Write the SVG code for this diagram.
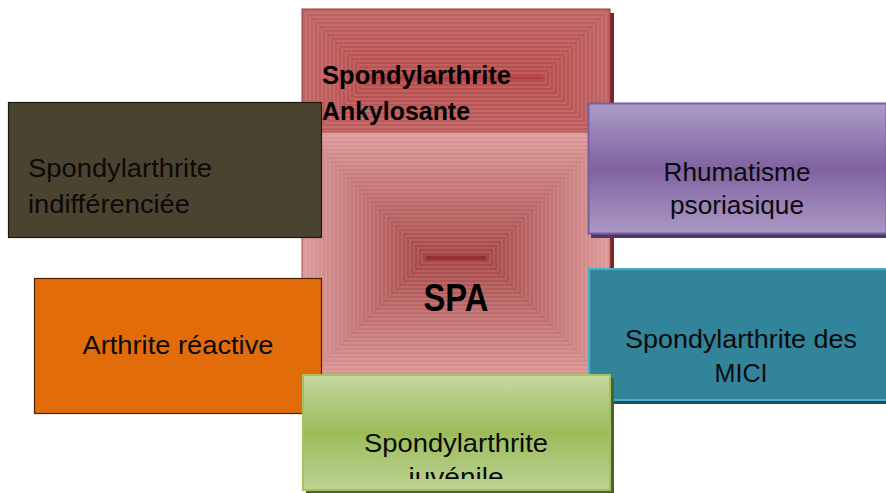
<svg xmlns="http://www.w3.org/2000/svg" width="886" height="493" viewBox="0 0 886 493">
<defs>
<style>
.s{stroke:rgba(255,235,235,0.22);stroke-width:1}
.t{font-family:"Liberation Sans",Arial,sans-serif;font-size:26px;fill:#0a0a0a}
.b{font-family:"Liberation Sans",Arial,sans-serif;font-weight:bold;fill:#000}
.sh{fill:#7a2626}
</style>
<linearGradient id="gp" x1="0" y1="0" x2="0" y2="1">
<stop offset="0" stop-color="#ad9bc8"/><stop offset="0.5" stop-color="#7f63a1"/><stop offset="1" stop-color="#ac99c6"/>
</linearGradient>
<linearGradient id="gg" x1="0" y1="0" x2="0" y2="1">
<stop offset="0" stop-color="#c5d89f"/><stop offset="0.5" stop-color="#9cbc5a"/><stop offset="1" stop-color="#bcd394"/>
</linearGradient>
<clipPath id="cg"><rect x="304" y="376" width="304" height="103"/></clipPath>
</defs>

<g id="node-ankylosante">
<rect class="sh" x="306" y="13" width="308" height="138"/>
<rect class="s" x="302" y="9" width="308" height="138" fill="#be6464" style="stroke:#9c3c3c"/>
<rect class="s" x="306" y="13" width="300" height="130" fill="#be6262"/>
<rect class="s" x="310" y="17" width="292" height="122" fill="#bd6161"/>
<rect class="s" x="314" y="21" width="284" height="114" fill="#bd5f5f"/>
<rect class="s" x="318" y="25" width="276" height="106" fill="#bd5e5e"/>
<rect class="s" x="322" y="29" width="268" height="98" fill="#bc5c5c"/>
<rect class="s" x="326" y="33" width="260" height="90" fill="#bc5b5b"/>
<rect class="s" x="330" y="37" width="252" height="82" fill="#bc5959"/>
<rect class="s" x="334" y="41" width="244" height="74" fill="#bb5858"/>
<rect class="s" x="338" y="45" width="236" height="66" fill="#bb5656"/>
<rect class="s" x="342" y="49" width="228" height="58" fill="#ba5555"/>
<rect class="s" x="346" y="53" width="220" height="50" fill="#ba5353"/>
<rect class="s" x="350" y="57" width="212" height="42" fill="#ba5252"/>
<rect class="s" x="354" y="61" width="204" height="34" fill="#b95050"/>
<rect class="s" x="358" y="65" width="196" height="26" fill="#b94f4f"/>
<rect class="s" x="362" y="69" width="188" height="18" fill="#b94d4d"/>
<rect class="s" x="366" y="73" width="180" height="10" fill="#b84c4c"/>
<rect x="370" y="77" width="172" height="2" fill="#b04040"/>
</g>

<g id="node-spa">
<rect class="sh" x="306" y="136" width="308" height="251"/>
<rect class="s" x="302" y="132" width="308" height="251" fill="#dc9a9a" style="stroke:#a85050"/>
<rect class="s" x="306" y="136" width="300" height="243" fill="#da9797"/>
<rect class="s" x="310" y="140" width="292" height="235" fill="#d89494"/>
<rect class="s" x="314" y="144" width="284" height="227" fill="#d79292"/>
<rect class="s" x="318" y="148" width="276" height="219" fill="#d58f8f"/>
<rect class="s" x="322" y="152" width="268" height="211" fill="#d38c8c"/>
<rect class="s" x="326" y="156" width="260" height="203" fill="#d18989"/>
<rect class="s" x="330" y="160" width="252" height="195" fill="#cf8787"/>
<rect class="s" x="334" y="164" width="244" height="187" fill="#ce8484"/>
<rect class="s" x="338" y="168" width="236" height="179" fill="#cc8181"/>
<rect class="s" x="342" y="172" width="228" height="171" fill="#ca7e7e"/>
<rect class="s" x="346" y="176" width="220" height="163" fill="#c87c7c"/>
<rect class="s" x="350" y="180" width="212" height="155" fill="#c67979"/>
<rect class="s" x="354" y="184" width="204" height="147" fill="#c57676"/>
<rect class="s" x="358" y="188" width="196" height="139" fill="#c37373"/>
<rect class="s" x="362" y="192" width="188" height="131" fill="#c17070"/>
<rect class="s" x="366" y="196" width="180" height="123" fill="#bf6e6e"/>
<rect class="s" x="370" y="200" width="172" height="115" fill="#bd6b6b"/>
<rect class="s" x="374" y="204" width="164" height="107" fill="#bc6868"/>
<rect class="s" x="378" y="208" width="156" height="99" fill="#ba6565"/>
<rect class="s" x="382" y="212" width="148" height="91" fill="#b86363"/>
<rect class="s" x="386" y="216" width="140" height="83" fill="#b66060"/>
<rect class="s" x="390" y="220" width="132" height="75" fill="#b45d5d"/>
<rect class="s" x="394" y="224" width="124" height="67" fill="#b35a5a"/>
<rect class="s" x="398" y="228" width="116" height="59" fill="#b15858"/>
<rect class="s" x="402" y="232" width="108" height="51" fill="#af5555"/>
<rect class="s" x="406" y="236" width="100" height="43" fill="#ad5252"/>
<rect class="s" x="410" y="240" width="92" height="35" fill="#ab4f4f"/>
<rect class="s" x="414" y="244" width="84" height="27" fill="#aa4c4c"/>
<rect class="s" x="418" y="248" width="76" height="19" fill="#a84a4a"/>
<rect class="s" x="422" y="252" width="68" height="11" fill="#a64747"/>
<rect x="426" y="256" width="60" height="4" fill="#983030"/>
<text class="b" x="456" y="310.5" font-size="38" text-anchor="middle" textLength="65" lengthAdjust="spacingAndGlyphs">SPA</text>
</g>

<g id="label-ankylosante">
<text class="b" font-size="25" x="322" y="84" textLength="189" lengthAdjust="spacingAndGlyphs">Spondylarthrite</text>
<text class="b" font-size="25" x="322" y="120" textLength="148" lengthAdjust="spacingAndGlyphs">Ankylosante</text>
</g>

<g id="node-indifferenciee">
<rect x="8.5" y="102.5" width="313" height="135" fill="#4a4330" stroke="#1d1a10" stroke-width="1.2"/>
<text class="t" x="28" y="177" textLength="184" lengthAdjust="spacingAndGlyphs">Spondylarthrite</text>
<text class="t" x="28" y="212.5" textLength="162" lengthAdjust="spacingAndGlyphs">indifférenciée</text>
</g>

<g id="node-arthrite">
<rect x="34.5" y="278.5" width="287" height="135" fill="#e36c0a" stroke="#4a2300" stroke-width="1.2"/>
<text class="t" x="178" y="354" text-anchor="middle" textLength="191" lengthAdjust="spacingAndGlyphs">Arthrite réactive</text>
</g>

<g id="node-rhumatisme">
<rect x="591" y="107" width="298" height="131" fill="#4b3a63"/>
<rect x="588.5" y="103.5" width="298" height="130" fill="url(#gp)" stroke="#7a5f9e" stroke-width="2"/>
<text class="t" x="737" y="180.5" text-anchor="middle" textLength="147" lengthAdjust="spacingAndGlyphs">Rhumatisme</text>
<text class="t" x="737" y="213.5" text-anchor="middle" textLength="134" lengthAdjust="spacingAndGlyphs">psoriasique</text>
</g>

<g id="node-mici">
<rect x="591" y="272" width="306" height="132" fill="#1f4e5b"/>
<rect x="589" y="269" width="306" height="131" fill="#32849a" stroke="#4aadc7" stroke-width="2"/>
<text class="t" x="741" y="347.5" text-anchor="middle" textLength="232" lengthAdjust="spacingAndGlyphs">Spondylarthrite des</text>
<text class="t" x="741" y="382" text-anchor="middle" textLength="53" lengthAdjust="spacingAndGlyphs">MICI</text>
</g>

<g id="node-juvenile">
<rect x="306" y="378" width="308" height="116" fill="#4f6228"/>
<rect x="303" y="375" width="307" height="115" fill="url(#gg)" stroke="#a3c267" stroke-width="2"/>
<g clip-path="url(#cg)">
<text class="t" x="456" y="451.5" text-anchor="middle" textLength="184" lengthAdjust="spacingAndGlyphs">Spondylarthrite</text>
<text class="t" x="456" y="486" text-anchor="middle" textLength="95" lengthAdjust="spacingAndGlyphs">juvénile</text>
</g>
</g>

<g id="connectors"/>
</svg>
